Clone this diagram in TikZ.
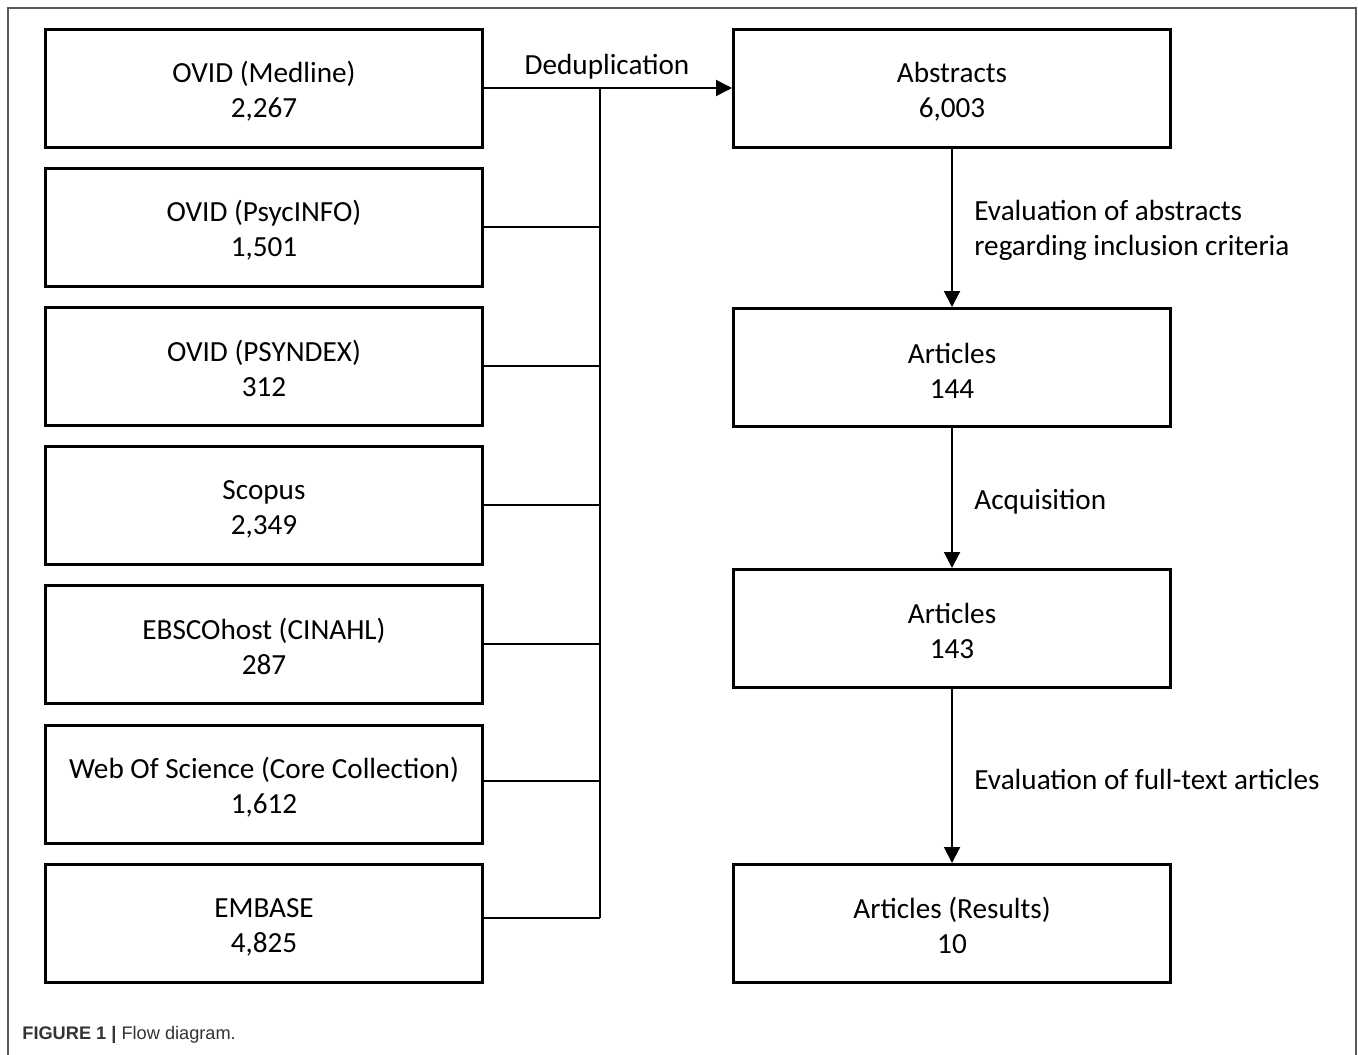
\documentclass[tikz,border=0pt]{standalone}
\usepackage{fontspec}
\setmainfont{Carlito}
\newfontfamily\capfont{Liberation Sans}
\usetikzlibrary{arrows.meta}
\newcommand\boxstrut{\rule{0pt}{13pt}}
\begin{document}
\begin{tikzpicture}[x=0.5pt,y=-0.5pt,
  box/.style={draw=black,line width=1.5pt,minimum width=218.5pt,minimum height=59pt,
    align=center,inner sep=0pt,font=\fontsize{14.6}{17.5}\selectfont,fill=white},
  conn/.style={draw=black,line width=1pt},
  arr/.style={conn,-{Triangle[length=8pt,width=8pt]}},
  lbl/.style={font=\fontsize{14.6}{17.5}\selectfont,inner sep=0pt}]
\useasboundingbox (0,0) rectangle (1358,1054);
\fill[white] (0,0) rectangle (1358,1054);
\draw[gray!70!black,line width=1pt] (7.5,1060) -- (7.5,8.5) -- (1355.5,8.5) -- (1355.5,1060);
% left boxes
\node[box] (s1) at (264,88.5) {\boxstrut OVID (Medline)\\2,267};
\node[box] (s2) at (264,227.5) {\boxstrut OVID (PsycINFO)\\1,501};
\node[box] (s3) at (264,366.5) {\boxstrut OVID (PSYNDEX)\\312};
\node[box] (s4) at (264,505.5) {\boxstrut Scopus\\2,349};
\node[box] (s5) at (264,644.5) {\boxstrut EBSCOhost (CINAHL)\\287};
\node[box] (s6) at (264,784.5) {\boxstrut Web Of Science (Core Collection)\\1,612};
\node[box] (s7) at (264,923.5) {\boxstrut EMBASE\\4,825};
% right boxes
\node[box] (r1) at (952,88.5) {\boxstrut Abstracts\\6,003};
\node[box] (r2) at (952,367.5) {\boxstrut Articles\\144};
\node[box] (r3) at (952,628.5) {\boxstrut Articles\\143};
\node[box] (r4) at (952,923.5) {\boxstrut Articles (Results)\\10};
% merge line
\coordinate (mtop) at (600,88);
\coordinate (mbot) at (600,918);
\draw[conn] (mtop) -- (mbot);
\draw[conn] (s2.east |- 0,227) -- (600,227);
\draw[conn] (s3.east |- 0,366) -- (600,366);
\draw[conn] (s4.east |- 0,505) -- (600,505);
\draw[conn] (s5.east |- 0,644) -- (600,644);
\draw[conn] (s6.east |- 0,781) -- (600,781);
\draw[conn] (s7.east |- 0,918) -- (mbot);
\draw[arr] (s1.east |- 0,88) -- (r1.west |- 0,88);
\node[lbl] (dedup) at (607,67) {Deduplication};
% right arrows
\draw[arr] (r1.south) -- (r2.north);
\draw[arr] (r2.south) -- (r3.north);
\draw[arr] (r3.south) -- (r4.north);
\node[lbl,anchor=west,align=left] (l1) at (974,230) {Evaluation of abstracts\\regarding inclusion criteria};
\node[lbl,anchor=west] (l2) at (974,502) {Acquisition};
\node[lbl,anchor=west] (l3) at (974,779) {Evaluation of full-text articles};
% caption
\node[anchor=base west,inner sep=0pt,font=\capfont\fontsize{9.1}{11}\selectfont,text=black!80] (cap) at (22,1039) {\textbf{FIGURE 1 |} Flow diagram.};
\end{tikzpicture}
\end{document}
